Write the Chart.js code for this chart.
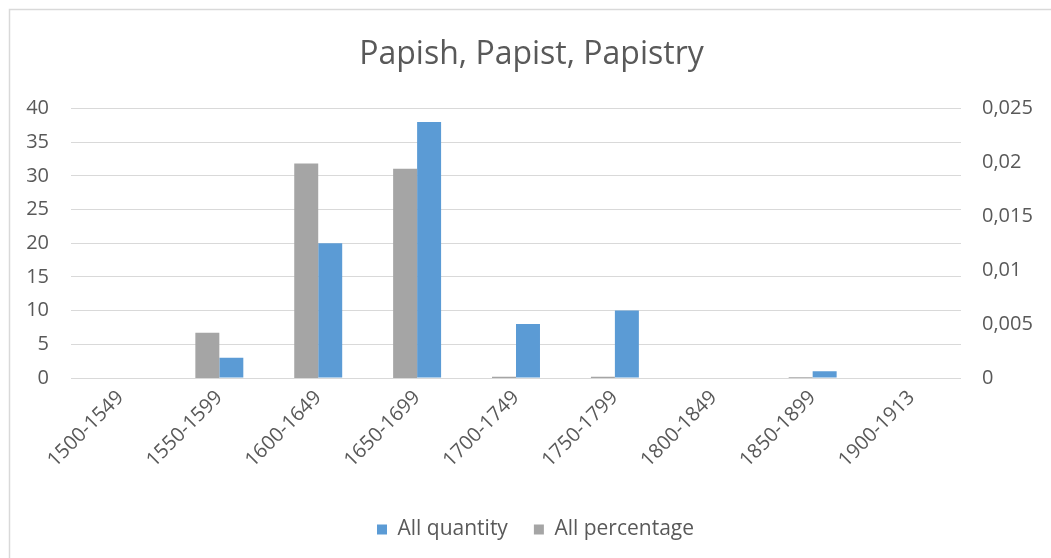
<!DOCTYPE html>
<html>
<head>
<meta charset="utf-8">
<script src="https://cdn.jsdelivr.net/npm/chart.js@4/dist/chart.umd.min.js"></script>
<style>
html,body{margin:0;padding:0;background:#fff;}
#wrap{width:1051px;height:558px;position:relative;}
</style>
</head>
<body>
<div id="wrap"><canvas id="c" width="1051" height="558"></canvas></div>
<script>
const categories = ["1500-1549","1550-1599","1600-1649","1650-1699","1700-1749","1750-1799","1800-1849","1850-1899","1900-1913"];
const allQuantity = [0, 3, 20, 38, 8, 10, 0, 1, 0];
const allPercentage = [0, 0.0042, 0.0199, 0.0194, 0.00011, 0.00012, 0, 0.00008, 0];
const leftTickLabels = ["0","5","10","15","20","25","30","35","40"];
const rightTickLabels = ["0","0,005","0,01","0,015","0,02","0,025"];

const FONT = "Open Sans";
const TXT = "#595959";

const framePlugin = {
  id: 'frame',
  afterLayout(chart) {
    if (chart.legend) { chart.legend.left += 10; chart.legend.right += 10; }
    if (chart.titleBlock) { chart.titleBlock.left += 6; chart.titleBlock.right += 6; }
  },
  beforeDraw(chart) {
    const ctx = chart.ctx;
    ctx.save();
    ctx.fillStyle = '#ffffff';
    ctx.fillRect(0, 0, chart.width, chart.height);
    ctx.strokeStyle = '#d9d9d9';
    ctx.lineWidth = 1.5;
    ctx.strokeRect(9.5, 9.5, 1200, 1200);
    ctx.restore();
  }
};

new Chart(document.getElementById('c'), {
  type: 'bar',
  data: {
    labels: categories,
    datasets: [
      { label: 'All percentage', data: allPercentage, backgroundColor: '#a5a5a5', yAxisID: 'y2',
        categoryPercentage: 0.485, barPercentage: 1.0 },
      { label: 'All quantity', data: allQuantity, backgroundColor: '#5b9bd5', yAxisID: 'y',
        categoryPercentage: 0.485, barPercentage: 1.0 }
    ]
  },
  options: {
    responsive: false,
    animation: false,
    devicePixelRatio: 1,
    layout: { padding: { left: 0, right: 0, top: 0, bottom: 8 } },
    plugins: {
      title: { display: true, text: 'Papish, Papist, Papistry', color: TXT,
        font: { family: FONT, size: 32, weight: 'normal' }, padding: { top: 36, bottom: 34 } },
      legend: { position: 'bottom', reverse: true,
        labels: { color: TXT, font: { family: FONT, size: 21 }, boxWidth: 10, boxHeight: 10, padding: 26 } },
      tooltip: { enabled: false }
    },
    scales: {
      x: {
        grid: { display: false, drawTicks: false },
        border: { display: false },
        ticks: { color: TXT, font: { family: FONT, size: 20 }, minRotation: 45, maxRotation: 45, padding: 8, autoSkip: false },
        afterFit(s) { s.height = 115; }
      },
      y: {
        position: 'left', min: 0, max: 40,
        grid: { color: '#d9d9d9', lineWidth: 1, drawTicks: false },
        border: { display: false },
        ticks: { stepSize: 5, color: TXT, font: { family: FONT, size: 20 }, padding: 22,
          callback: (v, i) => leftTickLabels[i] },
        afterFit(s) { s.width = 71; }
      },
      y2: {
        position: 'right', min: 0, max: 0.025,
        grid: { display: false, drawTicks: false },
        border: { display: false },
        ticks: { stepSize: 0.005, color: TXT, font: { family: FONT, size: 20 }, padding: 21,
          callback: (v, i) => rightTickLabels[i] },
        afterFit(s) { s.width = 90; }
      }
    }
  },
  plugins: [framePlugin]
});
</script>
</body>
</html>
